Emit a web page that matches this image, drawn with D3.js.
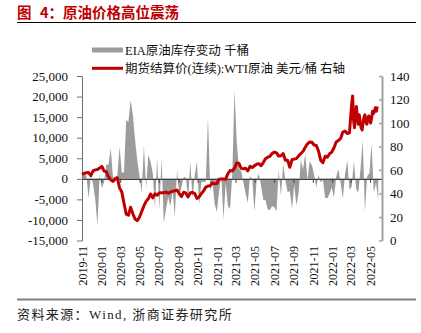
<!DOCTYPE html>
<html><head><meta charset="utf-8">
<script src="https://cdn.jsdelivr.net/npm/d3@7"></script>
<style>body{margin:0;background:#fff} svg{display:block}</style>
</head><body><svg id="c" width="421" height="333"></svg>
<script>
const titleText = "图 4：原油价格高位震荡";
const sourceText = "资料来源：Wind, 浙商证券研究所";
const legendLabels = ["EIA原油库存变动 千桶", "期货结算价(连续):WTI原油 美元/桶 右轴"];
const leftTicks = [-15000, -10000, -5000, 0, 5000, 10000, 15000, 20000, 25000];
const rightTicks = [0, 20, 40, 60, 80, 100, 120, 140];
const xTickLabels = ["2019-11","2020-01","2020-03","2020-05","2020-07","2020-09","2020-11","2021-01","2021-03","2021-05","2021-07","2021-09","2021-11","2022-01","2022-03","2022-05"];

// EIA weekly crude inventory change, thousand barrels, weekly from 2019-11-01
const eiaStart = "2019-11-01";
const eiaWeekly = [2000,1500,600,-4700,800,-1200,-5000,-11300,1200,-2300,
  -800,3500,3400,7400,400,500,800,7800,1500,1600,
  14300,13800,19100,15500,9500,4600,700,-3400,8000,-2100,
  5800,4200,1400,-7100,5000,-7500,5000,-10700,-7400,-4500,
  -6700,-3000,-9100,2200,-4300,-2000,500,300,-5000,4200,
  -4700,800,4200,-6300,-800,-700,-700,15100,-3100,-600,
  -6100,-8000,-3200,1000,-9900,-1000,-6600,-7300,1300,21600,
  9000,2400,1900,-900,-3500,-5900,600,100,-8000,-400,
  1300,-1700,-5100,-5200,-7400,-7600,-6700,-6900,-7900,2100,
  -4100,3600,-400,-3200,-3000,-7200,-1500,-6400,-3500,4600,
  2300,6100,-400,4300,3300,1000,-2100,1000,-900,-200,
  -4600,-4700,-3600,-2100,-4600,500,2400,-1000,-4800,1100,
  4500,-2600,-1900,4300,-2500,-3400,2400,9400,-8000,700,
  1300,8500,-3400,-1000,-5100];

// WTI continuous settlement, USD/bbl, weekly from 2019-11-01 to 2022-02-25
const wtiStart = "2019-11-01";
const wtiWeekly = [56.2,57.2,57.7,57.8,55.2,59.2,60.1,60.4,61.7,63.1,
  59.0,58.5,54.2,51.6,50.3,52.1,53.4,44.8,41.3,31.7,
  22.4,21.5,28.3,22.8,18.3,16.9,19.8,24.7,29.4,33.3,
  35.5,39.6,36.3,39.8,38.5,40.7,40.6,40.6,41.3,40.3,
  41.2,42.0,42.3,42.9,39.8,37.3,41.1,40.3,37.1,40.6,
  40.9,39.9,35.8,37.1,40.1,42.2,45.5,46.3,46.6,49.1,
  48.2,48.5,52.2,52.4,52.3,52.2,56.9,59.5,59.2,61.5,
  66.1,65.6,61.4,61.0,61.5,59.3,63.1,62.1,63.6,64.9,
  65.4,63.6,66.3,69.6,70.9,71.6,74.1,75.2,74.6,71.8,
  72.1,74.0,68.3,68.4,62.3,68.7,69.3,69.7,72.0,74.0,
  75.9,79.4,82.3,83.8,83.6,81.3,80.8,76.1,68.2,66.3,
  71.7,70.9,73.8,75.2,78.9,83.8,85.1,86.8,92.3,93.1,
  91.1,91.6];
// WTI, every 3 days from 2022-03-01
const wtiTailStart = "2022-03-01";
const wtiTail = [106,116,123,102,96,108,114,104,99,107,
  101,96,94,100,105,107,101,99,104,106,
  102,100,104,110,108,110,113,110,114];

const parse = d3.timeParse("%Y-%m-%d");
const addDays = (d, n) => { const r = new Date(d); r.setDate(r.getDate() + n); return r; };
const eiaData = eiaWeekly.map((v, i) => ({date: addDays(parse(eiaStart), 7 * i), v}));
const wtiData = wtiWeekly.map((v, i) => ({date: addDays(parse(wtiStart), 7 * i), v}))
  .concat(wtiTail.map((v, i) => ({date: addDays(parse(wtiTailStart), 3 * i), v})));
const xTickDates = xTickLabels.map(s => d3.timeParse("%Y-%m")(s));

const svg = d3.select("#c");
const serif = "'Liberation Serif','Times New Roman',serif";
const cjk = "'Liberation Serif','Noto Sans CJK SC',serif";

const x = d3.scaleTime().domain([parse("2019-11-01"), parse("2022-06-08")]).range([82, 382]);
const yL = d3.scaleLinear().domain([-15000, 25000]).range([240.5, 76]);
const yR = d3.scaleLinear().domain([0, 140]).range([240.5, 76]);

// title
const [tHead, tRest] = [titleText.split(" ")[0], titleText.split(" ").slice(1).join(" ")];
const tt = svg.append("text").attr("y", 18).attr("fill", "#c00000")
  .attr("font-family", "'Noto Sans CJK SC',sans-serif").attr("font-weight", "bold")
  .attr("font-size", 14.5);
tt.append("tspan").attr("x", 17).text(tHead);
tt.append("tspan").attr("x", 40).text(tRest);
svg.append("line").attr("x1", 17).attr("x2", 416).attr("y1", 22.5).attr("y2", 22.5)
  .attr("stroke", "#000").attr("stroke-width", 1.2);

// gray area
svg.append("path").datum(eiaData)
  .attr("d", d3.area().x(d => x(d.date)).y0(yL(0)).y1(d => yL(d.v)))
  .attr("fill", "#9c9c9c");

// zero axis
const xAxis = d3.axisBottom(x).tickValues(xTickDates).tickSize(4).tickSizeOuter(0).tickFormat("");
const gx = svg.append("g").attr("transform", `translate(0,${yL(0)})`).call(xAxis);
gx.select(".domain").attr("stroke", "#404040").attr("stroke-width", 1.3);
gx.selectAll(".tick line").attr("stroke", "#404040");

// x labels
svg.append("g").selectAll("text").data(xTickDates).join("text")
  .attr("transform", (d, i) => `translate(${x(d) + 0.5},246) rotate(-90)`)
  .attr("text-anchor", "end").attr("dy", "0.35em")
  .attr("font-family", serif).attr("font-size", 12).attr("fill", "#111")
  .text((d, i) => xTickLabels[i]);

// left axis
const gl = svg.append("g").attr("transform", "translate(82,0)")
  .call(d3.axisLeft(yL).tickValues(leftTicks).tickSize(5).tickSizeOuter(0).tickPadding(9)
    .tickFormat(d => d3.format(",")(d).replace("\u2212", "-")));
gl.select(".domain").attr("stroke", "#707070");
gl.selectAll(".tick line").attr("stroke", "#707070");
gl.selectAll("text").attr("font-family", serif).attr("font-size", 13).attr("fill", "#111");

// right axis
const gr = svg.append("g").attr("transform", "translate(382,0)")
  .call(d3.axisRight(yR).tickValues(rightTicks).tickSizeInner(-3).tickSizeOuter(0).tickPadding(8));
gr.select(".domain").attr("stroke", "#a0a0a0").attr("stroke-width", 2);
gr.selectAll(".tick line").attr("stroke", "#a0a0a0").attr("stroke-width", 1.5);
gr.selectAll("text").attr("font-family", serif).attr("font-size", 13).attr("fill", "#111");

// red line
svg.append("path").datum(wtiData)
  .attr("d", d3.line().x(d => x(d.date)).y(d => yR(d.v)))
  .attr("fill", "none").attr("stroke", "#c00000").attr("stroke-width", 3)
  .attr("stroke-linejoin", "round");

// legend
svg.append("rect").attr("x", 92).attr("y", 47.5).attr("width", 31).attr("height", 5).attr("fill", "#9c9c9c");
svg.append("text").attr("x", 125).attr("y", 54.5).attr("font-family", cjk).attr("font-size", 12.5)
  .attr("fill", "#111").text(legendLabels[0]);
svg.append("line").attr("x1", 92).attr("x2", 123).attr("y1", 68.3).attr("y2", 68.3)
  .attr("stroke", "#c00000").attr("stroke-width", 3);
svg.append("text").attr("x", 125).attr("y", 72.5).attr("font-family", cjk).attr("font-size", 12.5)
  .attr("fill", "#111").text(legendLabels[1]);

// bottom rule and source
svg.append("line").attr("x1", 17).attr("x2", 416).attr("y1", 299.5).attr("y2", 299.5)
  .attr("stroke", "#808080").attr("stroke-width", 1.8);
svg.append("text").attr("x", 17).attr("y", 318.5).attr("font-family", cjk).attr("font-size", 13)
  .attr("letter-spacing", 1.4).attr("fill", "#222").text(sourceText);
</script></body></html>
